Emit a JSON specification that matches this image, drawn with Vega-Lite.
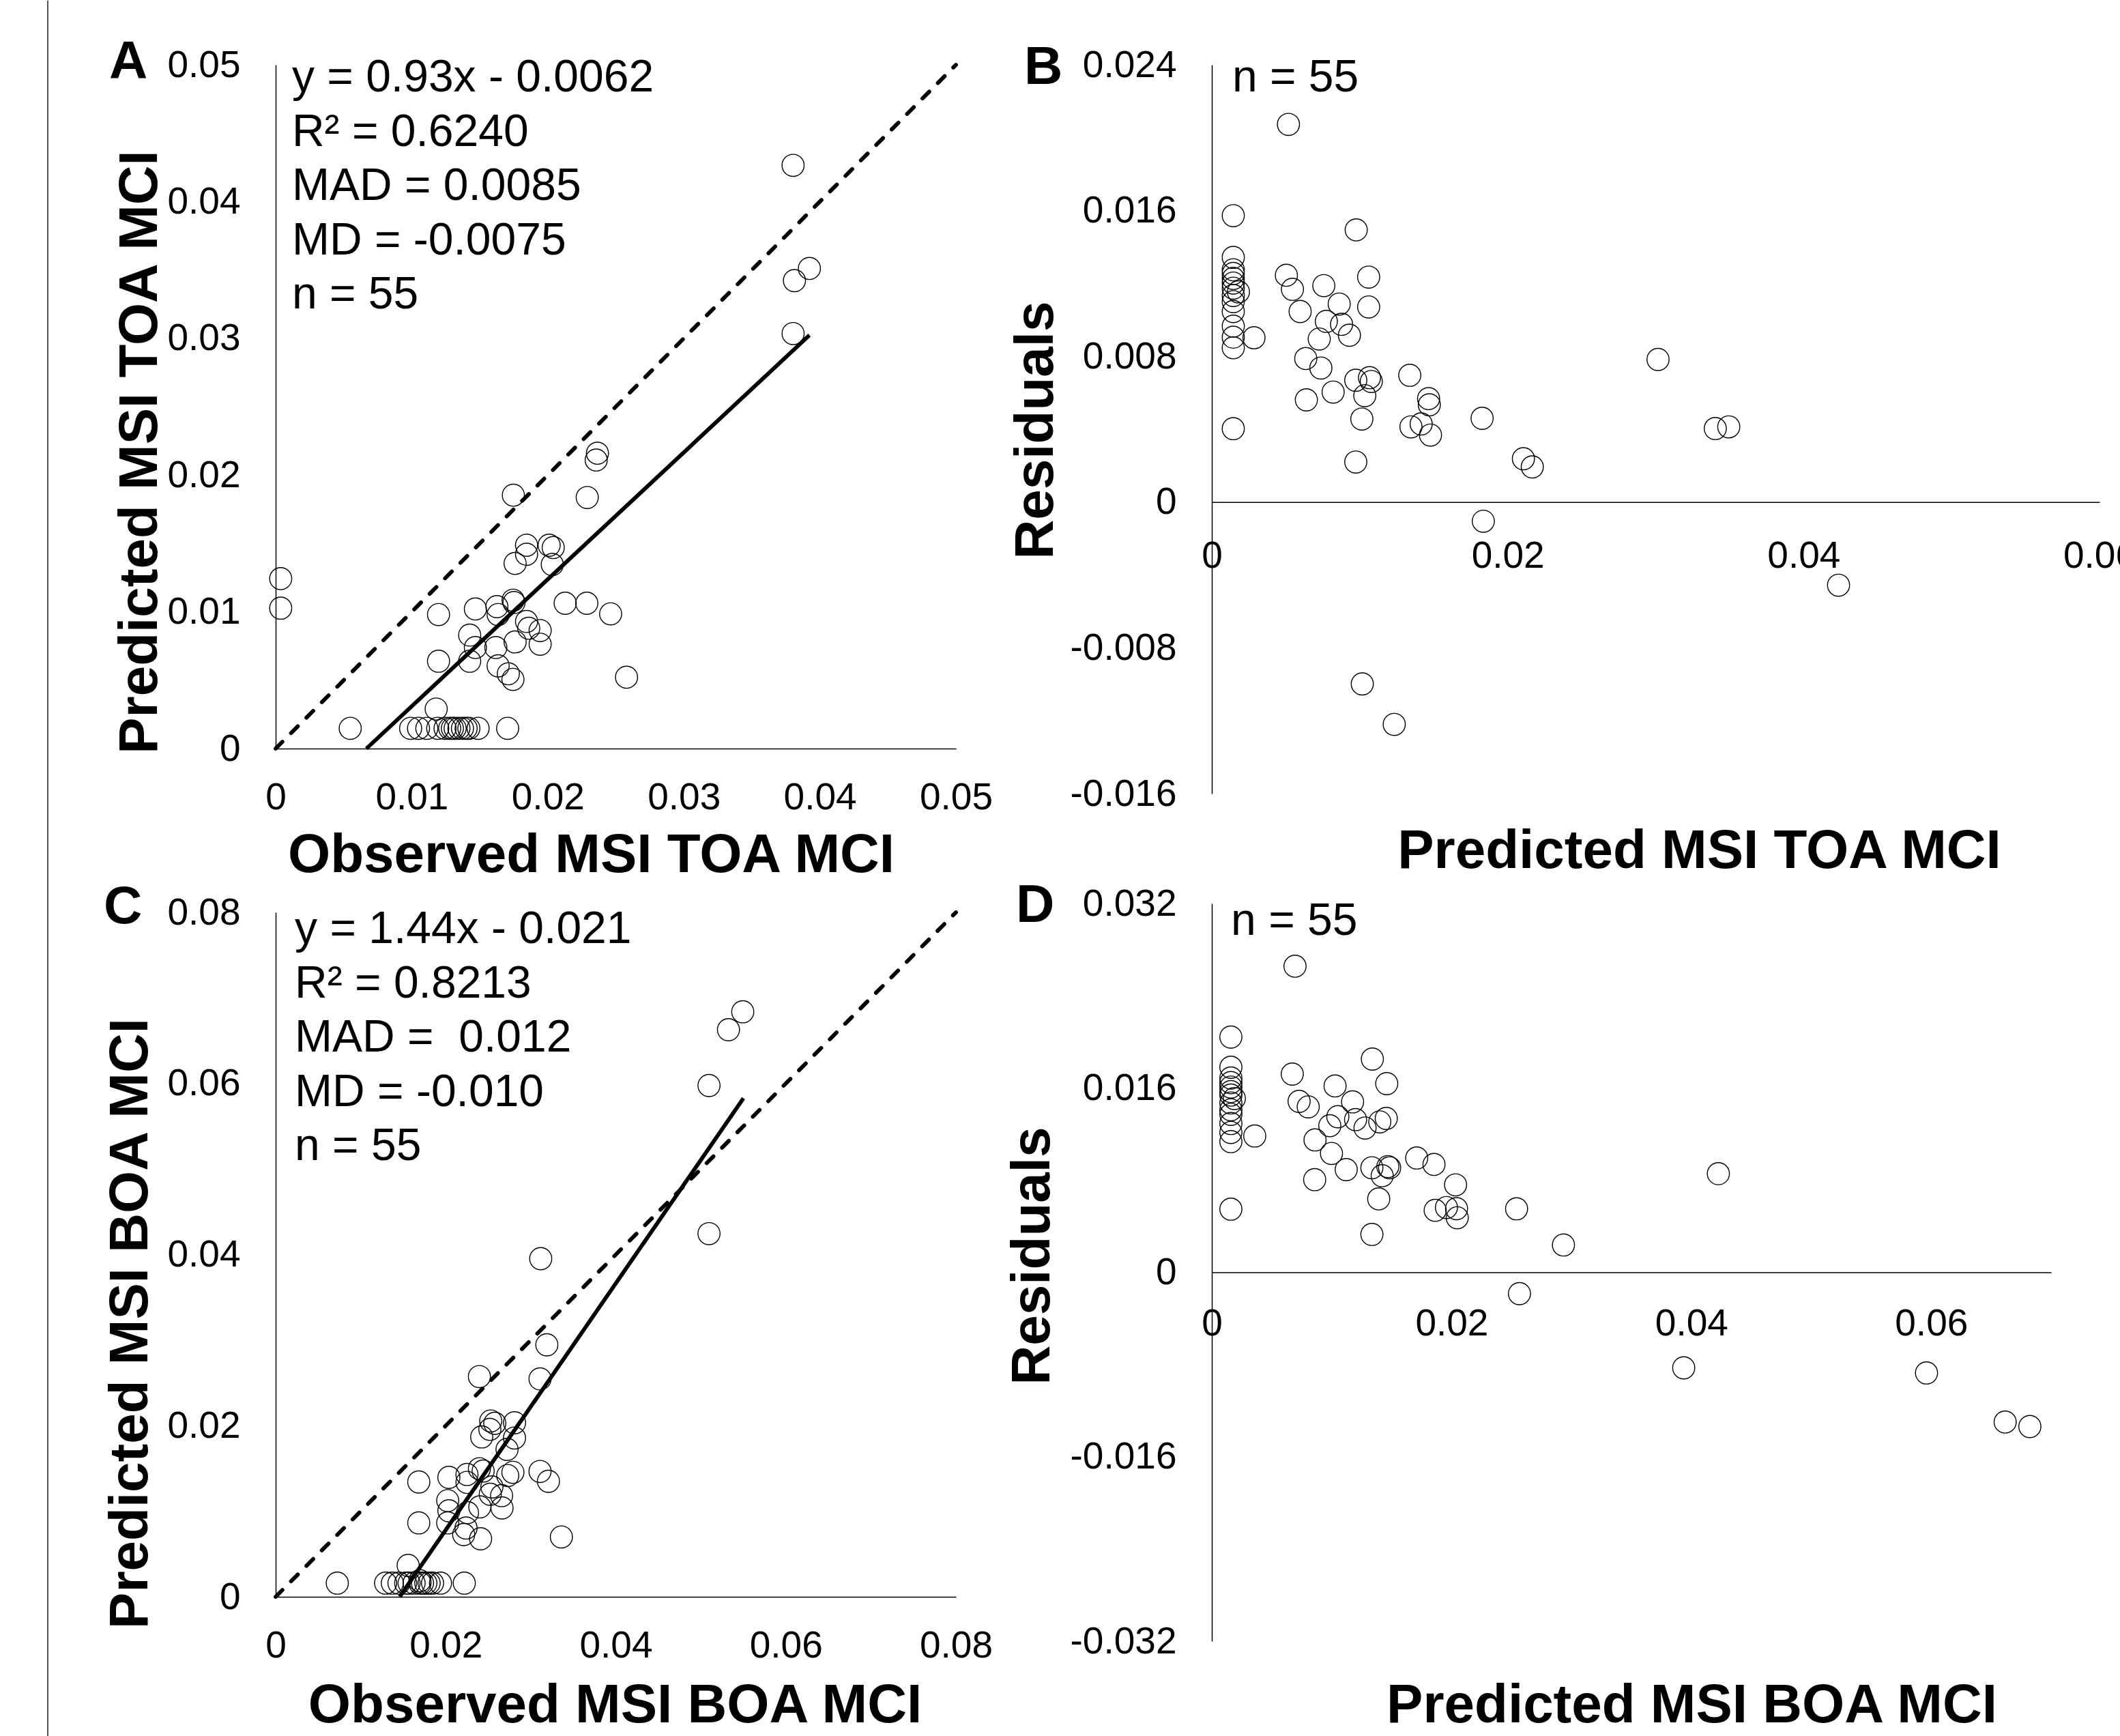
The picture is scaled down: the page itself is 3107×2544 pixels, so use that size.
{
  "$schema": "https://vega.github.io/schema/vega-lite/v6.json",
  "background": "white",
  "padding": {"left": 69, "top": 0, "right": 0, "bottom": 0},
  "autosize": {"type": "pad"},
  "config": {
    "view": {"stroke": null},
    "font": "Liberation Sans",
    "axis": {
      "grid": false,
      "ticks": false,
      "domainColor": "black",
      "domainWidth": 1.5,
      "labelColor": "black",
      "labelFont": "Liberation Sans",
      "labelFontSize": 55,
      "labelFlush": false,
      "labelOverlap": false,
      "labelBound": false,
      "labelExpr": "replace(format(datum.value, '~g'), '\u2212', '-')",
      "titleColor": "black",
      "titleFont": "Liberation Sans",
      "titleFontSize": 80,
      "titleFontWeight": "bold",
      "titleBaseline": "alphabetic",
      "titleAlign": "center"
    },
    "axisY": {"labelPadding": 52, "titleAngle": 270}
  },
  "spacing": 18,
  "hconcat": [
    {
      "spacing": 240,
      "bounds": "flush",
      "vconcat": [
        {
          "width": 997,
          "height": 1002,
          "layer": [
            {
              "data": {"values": [
                {"observed": 0.00037, "predicted": 0.01243}, {"observed": 0.00037, "predicted": 0.01027},
                {"observed": 0.00548, "predicted": 0.00148}, {"observed": 0.01197, "predicted": 0.0098},
                {"observed": 0.01197, "predicted": 0.00639}, {"observed": 0.0118, "predicted": 0.00289},
                {"observed": 0.01468, "predicted": 0.01021}, {"observed": 0.01426, "predicted": 0.0083},
                {"observed": 0.01468, "predicted": 0.00739}, {"observed": 0.01426, "predicted": 0.00639},
                {"observed": 0.01626, "predicted": 0.01038}, {"observed": 0.01635, "predicted": 0.0098},
                {"observed": 0.01745, "predicted": 0.01085}, {"observed": 0.01752, "predicted": 0.01068},
                {"observed": 0.01618, "predicted": 0.00739}, {"observed": 0.01635, "predicted": 0.00605},
                {"observed": 0.0171, "predicted": 0.00547}, {"observed": 0.01744, "predicted": 0.00506},
                {"observed": 0.0176, "predicted": 0.0078}, {"observed": 0.01844, "predicted": 0.0093},
                {"observed": 0.0186, "predicted": 0.0088}, {"observed": 0.01944, "predicted": 0.00863},
                {"observed": 0.01944, "predicted": 0.00763}, {"observed": 0.02128, "predicted": 0.01063},
                {"observed": 0.02287, "predicted": 0.01063}, {"observed": 0.02462, "predicted": 0.00985},
                {"observed": 0.02579, "predicted": 0.00522}, {"observed": 0.01844, "predicted": 0.01487},
                {"observed": 0.01844, "predicted": 0.01421}, {"observed": 0.0176, "predicted": 0.01354},
                {"observed": 0.0201, "predicted": 0.01487}, {"observed": 0.0204, "predicted": 0.0147},
                {"observed": 0.02033, "predicted": 0.01346}, {"observed": 0.01747, "predicted": 0.01853},
                {"observed": 0.0229, "predicted": 0.01836}, {"observed": 0.02356, "predicted": 0.0211},
                {"observed": 0.02365, "predicted": 0.0216}, {"observed": 0.03803, "predicted": 0.04265},
                {"observed": 0.03923, "predicted": 0.03511}, {"observed": 0.03813, "predicted": 0.03422},
                {"observed": 0.03803, "predicted": 0.03035}, {"observed": 0.01705, "predicted": 0.00148},
                {"observed": 0.00992, "predicted": 0.00148}, {"observed": 0.0105, "predicted": 0.00148},
                {"observed": 0.01111, "predicted": 0.00148}, {"observed": 0.01191, "predicted": 0.00148},
                {"observed": 0.01245, "predicted": 0.00148}, {"observed": 0.01279, "predicted": 0.00148},
                {"observed": 0.01299, "predicted": 0.00148}, {"observed": 0.01319, "predicted": 0.00148},
                {"observed": 0.01347, "predicted": 0.00148}, {"observed": 0.01373, "predicted": 0.00148},
                {"observed": 0.014, "predicted": 0.00148}, {"observed": 0.0142, "predicted": 0.00148},
                {"observed": 0.01488, "predicted": 0.00148}
              ]},
              "mark": {"type": "point", "shape": "circle", "filled": false, "color": "black", "strokeWidth": 1.4, "size": 1050, "opacity": 1},
              "encoding": {
                "x": {"field": "observed", "type": "quantitative", "scale": {"domain": [0, 0.05], "nice": false, "zero": false},
                  "axis": {"title": "Observed MSI TOA MCI", "values": [0, 0.01, 0.02, 0.03, 0.04, 0.05], "labelPadding": 45, "titleX": 462, "titleY": 180}},
                "y": {"field": "predicted", "type": "quantitative", "scale": {"domain": [0, 0.05], "nice": false, "zero": false},
                  "axis": {"title": "Predicted MSI TOA MCI", "values": [0, 0.01, 0.02, 0.03, 0.04, 0.05], "titleX": -175, "titleY": 567}}
              }
            },
            {
              "data": {"values": [{"observed": 0, "predicted": 0}, {"observed": 0.05, "predicted": 0.05}]},
              "mark": {"type": "line", "color": "black", "strokeWidth": 5.8, "strokeDash": [14, 18], "strokeCap": "round"},
              "encoding": {"x": {"field": "observed", "type": "quantitative"}, "y": {"field": "predicted", "type": "quantitative"}}
            },
            {
              "data": {"values": [{"observed": 0.00667, "predicted": 0}, {"observed": 0.03923, "predicted": 0.03023}]},
              "mark": {"type": "line", "color": "black", "strokeWidth": 5.8},
              "encoding": {"x": {"field": "observed", "type": "quantitative"}, "y": {"field": "predicted", "type": "quantitative"}}
            },
            {
              "data": {"values": [{}]},
              "mark": {"type": "text", "text": ["y = 0.93x - 0.0062", "R² = 0.6240", "MAD = 0.0085", "MD = -0.0075", "n = 55"], "font": "Liberation Sans", "fontSize": 66, "lineHeight": 79.6, "align": "left", "baseline": "alphabetic", "color": "black"},
              "encoding": {"x": {"datum": 0.0012, "type": "quantitative"}, "y": {"datum": 0.04805, "type": "quantitative"}}
            },
            {
              "data": {"values": [{}]},
              "mark": {"type": "text", "text": "A", "font": "Liberation Sans", "fontSize": 78, "fontWeight": "bold", "align": "left", "baseline": "alphabetic", "color": "black"},
              "encoding": {"x": {"datum": -0.01224, "type": "quantitative"}, "y": {"datum": 0.049, "type": "quantitative"}}
            },
            {
              "data": {"values": [{}]},
              "mark": {"type": "rule", "color": "#1a1a1a", "strokeWidth": 1.5},
              "encoding": {"x": {"datum": -0.01675, "type": "quantitative"}, "y": {"datum": 0.0547, "type": "quantitative"}, "y2": {"datum": -0.0722}}
            }
          ]
        },
        {
          "width": 997,
          "height": 1003,
          "layer": [
            {
              "data": {"values": [
                {"observed": 0.01558, "predicted": 0.00367}, {"observed": 0.01683, "predicted": 0.00864},
                {"observed": 0.01683, "predicted": 0.01342}, {"observed": 0.02037, "predicted": 0.01396},
                {"observed": 0.02023, "predicted": 0.01124}, {"observed": 0.02037, "predicted": 0.01005},
                {"observed": 0.02023, "predicted": 0.00864}, {"observed": 0.0225, "predicted": 0.0143},
                {"observed": 0.0225, "predicted": 0.01337}, {"observed": 0.02396, "predicted": 0.01497},
                {"observed": 0.0244, "predicted": 0.0147}, {"observed": 0.0241, "predicted": 0.00678},
                {"observed": 0.02543, "predicted": 0.01284}, {"observed": 0.02657, "predicted": 0.01183},
                {"observed": 0.02662, "predicted": 0.01039}, {"observed": 0.02729, "predicted": 0.01417},
                {"observed": 0.03109, "predicted": 0.01465}, {"observed": 0.03208, "predicted": 0.0135},
                {"observed": 0.0336, "predicted": 0.00699}, {"observed": 0.02423, "predicted": 0.01869},
                {"observed": 0.02529, "predicted": 0.02055}, {"observed": 0.02577, "predicted": 0.02028},
                {"observed": 0.02809, "predicted": 0.02034}, {"observed": 0.02809, "predicted": 0.01856},
                {"observed": 0.02721, "predicted": 0.01723}, {"observed": 0.02396, "predicted": 0.02574},
                {"observed": 0.03109, "predicted": 0.02547}, {"observed": 0.03189, "predicted": 0.02945},
                {"observed": 0.03117, "predicted": 0.03952}, {"observed": 0.05096, "predicted": 0.05976},
                {"observed": 0.05325, "predicted": 0.06628}, {"observed": 0.05493, "predicted": 0.06838},
                {"observed": 0.05096, "predicted": 0.04245}, {"observed": 0.02401, "predicted": 0.01051},
                {"observed": 0.02524, "predicted": 0.01199}, {"observed": 0.02256, "predicted": 0.00984},
                {"observed": 0.0279, "predicted": 0.01455}, {"observed": 0.02519, "predicted": 0.01957},
                {"observed": 0.02211, "predicted": 0.00728}, {"observed": 0.02239, "predicted": 0.00804},
                {"observed": 0.00725, "predicted": 0.0016}, {"observed": 0.02218, "predicted": 0.0016},
                {"observed": 0.01293, "predicted": 0.0016}, {"observed": 0.01372, "predicted": 0.0016},
                {"observed": 0.0145, "predicted": 0.0016}, {"observed": 0.01529, "predicted": 0.0016},
                {"observed": 0.01569, "predicted": 0.0016}, {"observed": 0.01628, "predicted": 0.0016},
                {"observed": 0.01697, "predicted": 0.0016}, {"observed": 0.01727, "predicted": 0.0016},
                {"observed": 0.01766, "predicted": 0.0016}, {"observed": 0.01805, "predicted": 0.0016},
                {"observed": 0.01845, "predicted": 0.0016}, {"observed": 0.01938, "predicted": 0.0016},
                {"observed": 0.01696, "predicted": 0.00188}
              ]},
              "mark": {"type": "point", "shape": "circle", "filled": false, "color": "black", "strokeWidth": 1.4, "size": 1050, "opacity": 1},
              "encoding": {
                "x": {"field": "observed", "type": "quantitative", "scale": {"domain": [0, 0.08], "nice": false, "zero": false},
                  "axis": {"title": "Observed MSI BOA MCI", "values": [0, 0.02, 0.04, 0.06, 0.08], "labelPadding": 45, "titleX": 497, "titleY": 183}},
                "y": {"field": "predicted", "type": "quantitative", "scale": {"domain": [0, 0.08], "nice": false, "zero": false},
                  "axis": {"title": "Predicted MSI BOA MCI", "values": [0, 0.02, 0.04, 0.06, 0.08], "titleX": -189, "titleY": 602}}
              }
            },
            {
              "data": {"values": [{"observed": 0, "predicted": 0}, {"observed": 0.08, "predicted": 0.08}]},
              "mark": {"type": "line", "color": "black", "strokeWidth": 5.8, "strokeDash": [14, 18], "strokeCap": "round"},
              "encoding": {"x": {"field": "observed", "type": "quantitative"}, "y": {"field": "predicted", "type": "quantitative"}}
            },
            {
              "data": {"values": [{"observed": 0.01458, "predicted": 0}, {"observed": 0.05501, "predicted": 0.05827}]},
              "mark": {"type": "line", "color": "black", "strokeWidth": 5.8},
              "encoding": {"x": {"field": "observed", "type": "quantitative"}, "y": {"field": "predicted", "type": "quantitative"}}
            },
            {
              "data": {"values": [{}]},
              "mark": {"type": "text", "text": ["y = 1.44x - 0.021", "R² = 0.8213", "MAD = \u00a00.012", "MD = -0.010", "n = 55"], "font": "Liberation Sans", "fontSize": 66, "lineHeight": 79.6, "align": "left", "baseline": "alphabetic", "color": "black"},
              "encoding": {"x": {"datum": 0.00225, "type": "quantitative"}, "y": {"datum": 0.07641, "type": "quantitative"}}
            },
            {
              "data": {"values": [{}]},
              "mark": {"type": "text", "text": "C", "font": "Liberation Sans", "fontSize": 78, "fontWeight": "bold", "align": "left", "baseline": "alphabetic", "color": "black"},
              "encoding": {"x": {"datum": -0.02022, "type": "quantitative"}, "y": {"datum": 0.07873, "type": "quantitative"}}
            }
          ]
        }
      ]
    },
    {
      "spacing": 161,
      "bounds": "flush",
      "vconcat": [
        {
          "width": 1301,
          "height": 1068,
          "layer": [
            {
              "data": {"values": [
                {"predicted": 0.00518, "residual": 0.02073}, {"predicted": 0.00145, "residual": 0.01572},
                {"predicted": 0.00976, "residual": 0.01494}, {"predicted": 0.00145, "residual": 0.01343},
                {"predicted": 0.00285, "residual": 0.00902}, {"predicted": 0.00504, "residual": 0.01245},
                {"predicted": 0.00545, "residual": 0.01168}, {"predicted": 0.00597, "residual": 0.01046},
                {"predicted": 0.00757, "residual": 0.01188}, {"predicted": 0.0106, "residual": 0.01235},
                {"predicted": 0.00861, "residual": 0.01087}, {"predicted": 0.0106, "residual": 0.01071},
                {"predicted": 0.00774, "residual": 0.00992}, {"predicted": 0.00877, "residual": 0.00976},
                {"predicted": 0.0093, "residual": 0.00916}, {"predicted": 0.00726, "residual": 0.00895},
                {"predicted": 0.00635, "residual": 0.00788}, {"predicted": 0.00737, "residual": 0.00736},
                {"predicted": 0.00639, "residual": 0.00561}, {"predicted": 0.0082, "residual": 0.00604},
                {"predicted": 0.00973, "residual": 0.00669}, {"predicted": 0.01066, "residual": 0.00683},
                {"predicted": 0.01078, "residual": 0.00662}, {"predicted": 0.01034, "residual": 0.00584},
                {"predicted": 0.01014, "residual": 0.00456}, {"predicted": 0.00973, "residual": 0.0022},
                {"predicted": 0.01338, "residual": 0.00696}, {"predicted": 0.01465, "residual": 0.00568},
                {"predicted": 0.0147, "residual": 0.00534}, {"predicted": 0.01346, "residual": 0.00413},
                {"predicted": 0.01415, "residual": 0.00429}, {"predicted": 0.01478, "residual": 0.00368},
                {"predicted": 0.01827, "residual": 0.0046}, {"predicted": 0.02106, "residual": 0.00238},
                {"predicted": 0.02166, "residual": 0.00193}, {"predicted": 0.03016, "residual": 0.00783},
                {"predicted": 0.03403, "residual": 0.00404}, {"predicted": 0.03494, "residual": 0.00413},
                {"predicted": 0.04236, "residual": -0.00456}, {"predicted": 0.01835, "residual": -0.00105},
                {"predicted": 0.01017, "residual": -0.00998}, {"predicted": 0.01233, "residual": -0.0122},
                {"predicted": 0.00145, "residual": 0.00403}, {"predicted": 0.00145, "residual": 0.01275},
                {"predicted": 0.00145, "residual": 0.01255}, {"predicted": 0.00145, "residual": 0.01228},
                {"predicted": 0.00145, "residual": 0.01202}, {"predicted": 0.00145, "residual": 0.01174},
                {"predicted": 0.0018, "residual": 0.01154}, {"predicted": 0.00145, "residual": 0.01134},
                {"predicted": 0.00145, "residual": 0.011}, {"predicted": 0.00145, "residual": 0.01046},
                {"predicted": 0.00145, "residual": 0.00966}, {"predicted": 0.00145, "residual": 0.00905},
                {"predicted": 0.00145, "residual": 0.00847}
              ]},
              "mark": {"type": "point", "shape": "circle", "filled": false, "color": "black", "strokeWidth": 1.4, "size": 1050, "opacity": 1},
              "encoding": {
                "x": {"field": "predicted", "type": "quantitative", "scale": {"domain": [0, 0.06], "nice": false, "zero": false},
                  "axis": {"title": "Predicted MSI TOA MCI", "values": [0, 0.02, 0.04, 0.06], "offset": -427.2, "labelPadding": 53, "titleX": 714, "titleY": 536}},
                "y": {"field": "residual", "type": "quantitative", "scale": {"domain": [-0.016, 0.024], "nice": false, "zero": false},
                  "axis": {"title": "Residuals", "values": [-0.016, -0.008, 0, 0.008, 0.016, 0.024], "titleX": -234, "titleY": 535}}
              }
            },
            {
              "data": {"values": [{}]},
              "mark": {"type": "text", "text": "n = 55", "font": "Liberation Sans", "fontSize": 66, "align": "left", "baseline": "alphabetic", "color": "black"},
              "encoding": {"x": {"datum": 0.00138, "type": "quantitative"}, "y": {"datum": 0.02254, "type": "quantitative"}}
            },
            {
              "data": {"values": [{}]},
              "mark": {"type": "text", "text": "B", "font": "Liberation Sans", "fontSize": 78, "fontWeight": "bold", "align": "left", "baseline": "alphabetic", "color": "black"},
              "encoding": {"x": {"datum": -0.01268, "type": "quantitative"}, "y": {"datum": 0.02295, "type": "quantitative"}}
            }
          ]
        },
        {
          "width": 1230,
          "height": 1081,
          "layer": [
            {
              "data": {"values": [
                {"predicted": 0.00159, "residual": 0.02041}, {"predicted": 0.00159, "residual": 0.01779},
                {"predicted": 0.00159, "residual": 0.01686}, {"predicted": 0.00159, "residual": 0.01646},
                {"predicted": 0.00159, "residual": 0.01607}, {"predicted": 0.00159, "residual": 0.01568},
                {"predicted": 0.00159, "residual": 0.01538}, {"predicted": 0.00159, "residual": 0.01469},
                {"predicted": 0.00159, "residual": 0.0141}, {"predicted": 0.00159, "residual": 0.0137},
                {"predicted": 0.00159, "residual": 0.01291}, {"predicted": 0.00159, "residual": 0.01213},
                {"predicted": 0.00159, "residual": 0.01134}, {"predicted": 0.00159, "residual": 0.00548},
                {"predicted": 0.00188, "residual": 0.01508}, {"predicted": 0.00694, "residual": 0.02656},
                {"predicted": 0.00358, "residual": 0.01183}, {"predicted": 0.00671, "residual": 0.0172},
                {"predicted": 0.00728, "residual": 0.01483}, {"predicted": 0.00804, "residual": 0.01435},
                {"predicted": 0.01028, "residual": 0.01617}, {"predicted": 0.01174, "residual": 0.01479},
                {"predicted": 0.01051, "residual": 0.0135}, {"predicted": 0.01199, "residual": 0.01325},
                {"predicted": 0.00984, "residual": 0.01272}, {"predicted": 0.01278, "residual": 0.01252},
                {"predicted": 0.01401, "residual": 0.01305}, {"predicted": 0.01455, "residual": 0.01335},
                {"predicted": 0.01339, "residual": 0.0185}, {"predicted": 0.01459, "residual": 0.01637},
                {"predicted": 0.00861, "residual": 0.01149}, {"predicted": 0.00998, "residual": 0.01031},
                {"predicted": 0.01121, "residual": 0.00891}, {"predicted": 0.00858, "residual": 0.00804},
                {"predicted": 0.01335, "residual": 0.00907}, {"predicted": 0.01421, "residual": 0.00838},
                {"predicted": 0.01468, "residual": 0.00917}, {"predicted": 0.01483, "residual": 0.00907},
                {"predicted": 0.01392, "residual": 0.00637}, {"predicted": 0.01335, "residual": 0.00329},
                {"predicted": 0.01709, "residual": 0.00992}, {"predicted": 0.01853, "residual": 0.00936},
                {"predicted": 0.02033, "residual": 0.00759}, {"predicted": 0.01863, "residual": 0.00538},
                {"predicted": 0.01957, "residual": 0.00562}, {"predicted": 0.02041, "residual": 0.00552},
                {"predicted": 0.02047, "residual": 0.00473}, {"predicted": 0.02542, "residual": 0.00551},
                {"predicted": 0.02933, "residual": 0.00237}, {"predicted": 0.02566, "residual": -0.00185},
                {"predicted": 0.04225, "residual": 0.00856}, {"predicted": 0.03936, "residual": -0.00829},
                {"predicted": 0.05961, "residual": -0.00873}, {"predicted": 0.06617, "residual": -0.01299},
                {"predicted": 0.06823, "residual": -0.01338}
              ]},
              "mark": {"type": "point", "shape": "circle", "filled": false, "color": "black", "strokeWidth": 1.4, "size": 1050, "opacity": 1},
              "encoding": {
                "x": {"field": "predicted", "type": "quantitative", "scale": {"domain": [0, 0.07], "nice": false, "zero": false},
                  "axis": {"title": "Predicted MSI BOA MCI", "values": [0, 0.02, 0.04, 0.06], "offset": -540.5, "labelPadding": 49, "titleX": 703, "titleY": 658.5}},
                "y": {"field": "residual", "type": "quantitative", "scale": {"domain": [-0.032, 0.032], "nice": false, "zero": false},
                  "axis": {"title": "Residuals", "values": [-0.032, -0.016, 0, 0.016, 0.032], "titleX": -239, "titleY": 516}}
              }
            },
            {
              "data": {"values": [{}]},
              "mark": {"type": "text", "text": "n = 55", "font": "Liberation Sans", "fontSize": 66, "align": "left", "baseline": "alphabetic", "color": "black"},
              "encoding": {"x": {"datum": 0.0016, "type": "quantitative"}, "y": {"datum": 0.0293, "type": "quantitative"}}
            },
            {
              "data": {"values": [{}]},
              "mark": {"type": "text", "text": "D", "font": "Liberation Sans", "fontSize": 78, "fontWeight": "bold", "align": "left", "baseline": "alphabetic", "color": "black"},
              "encoding": {"x": {"datum": -0.01633, "type": "quantitative"}, "y": {"datum": 0.0304, "type": "quantitative"}}
            }
          ]
        }
      ]
    }
  ]
}
